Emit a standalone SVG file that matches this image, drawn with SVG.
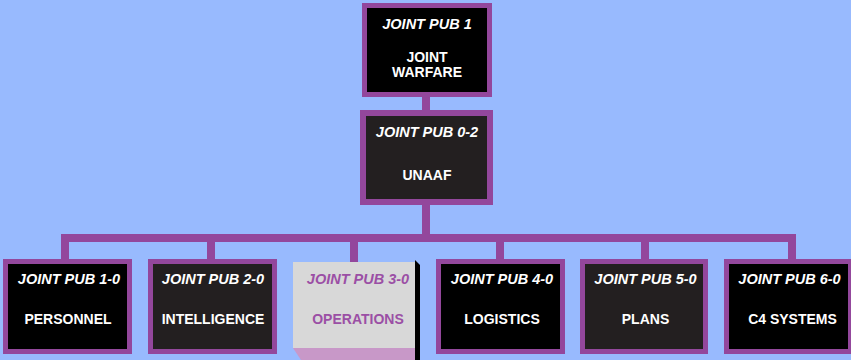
<svg xmlns="http://www.w3.org/2000/svg" width="851" height="360" viewBox="0 0 851 360">
<style>
.box{stroke:#93479c;stroke-width:5}
.k{fill:#000}
.d{fill:#231f20}
.pub{font-family:"Liberation Sans",Arial,sans-serif;font-weight:bold;font-style:italic;font-size:14.5px;fill:#fff;text-anchor:middle}
.ttl{font-family:"Liberation Sans",Arial,sans-serif;font-weight:bold;font-size:14px;fill:#fff;text-anchor:middle}
.op{fill:#9b4fa5}
.ln{stroke:#93479c;stroke-width:8;fill:none}
</style>
<rect width="851" height="360" fill="#98bafe"/>
<g id="connectors">
<line class="ln" x1="426" y1="95" x2="426" y2="112"/>
<line class="ln" x1="426" y1="203" x2="426" y2="238"/>
<line class="ln" x1="61" y1="238" x2="796" y2="238"/>
<line class="ln" x1="65" y1="238" x2="65" y2="261"/>
<line class="ln" x1="211" y1="238" x2="211" y2="261"/>
<line class="ln" x1="354" y1="238" x2="354" y2="263"/>
<line class="ln" x1="500" y1="238" x2="500" y2="261"/>
<line class="ln" x1="645" y1="238" x2="645" y2="261"/>
<line class="ln" x1="792" y1="238" x2="792" y2="261"/>
</g>
<g id="jp1">
<rect class="box k" x="364.5" y="5.5" width="125" height="89"/>
<text class="pub" x="427" y="29">JOINT PUB 1</text>
<text class="ttl" x="427" y="62">JOINT</text>
<text class="ttl" x="427" y="77">WARFARE</text>
</g>
<g id="jp02">
<rect class="box d" x="363" y="113" width="127" height="89" style="stroke-width:6"/>
<text class="pub" x="427" y="137">JOINT PUB 0-2</text>
<text class="ttl" x="427" y="180">UNAAF</text>
</g>
<g id="jp10">
<rect class="box k" x="5.5" y="261.5" width="124" height="90"/>
<text class="pub" x="69" y="284">JOINT PUB 1-0</text>
<text class="ttl" x="68" y="324">PERSONNEL</text>
</g>
<g id="jp20">
<rect class="box d" x="150.5" y="261.5" width="124" height="90"/>
<text class="pub" x="213" y="284">JOINT PUB 2-0</text>
<text class="ttl" x="213" y="324">INTELLIGENCE</text>
</g>
<g id="jp30">
<rect x="293" y="262" width="122" height="86" fill="#d8d8d8"/>
<polygon points="293,348 415,348 415,360 301,360" fill="#c898c8"/>
<polygon points="415,260 420,265 420,360 415,360" fill="#000"/>
<text class="pub op" x="358" y="284">JOINT PUB 3-0</text>
<text class="ttl op" x="358" y="324">OPERATIONS</text>
</g>
<g id="jp40">
<rect class="box k" x="438.5" y="261.5" width="124" height="90"/>
<text class="pub" x="502" y="284">JOINT PUB 4-0</text>
<text class="ttl" x="502" y="324">LOGISTICS</text>
</g>
<g id="jp50">
<rect class="box d" x="582.5" y="261.5" width="123" height="90"/>
<text class="pub" x="645.5" y="284">JOINT PUB 5-0</text>
<text class="ttl" x="645.5" y="324">PLANS</text>
</g>
<g id="jp60">
<rect class="box k" x="726.5" y="261.5" width="124" height="90"/>
<text class="pub" x="789.5" y="284">JOINT PUB 6-0</text>
<text class="ttl" x="792.5" y="324">C4 SYSTEMS</text>
</g>
</svg>
